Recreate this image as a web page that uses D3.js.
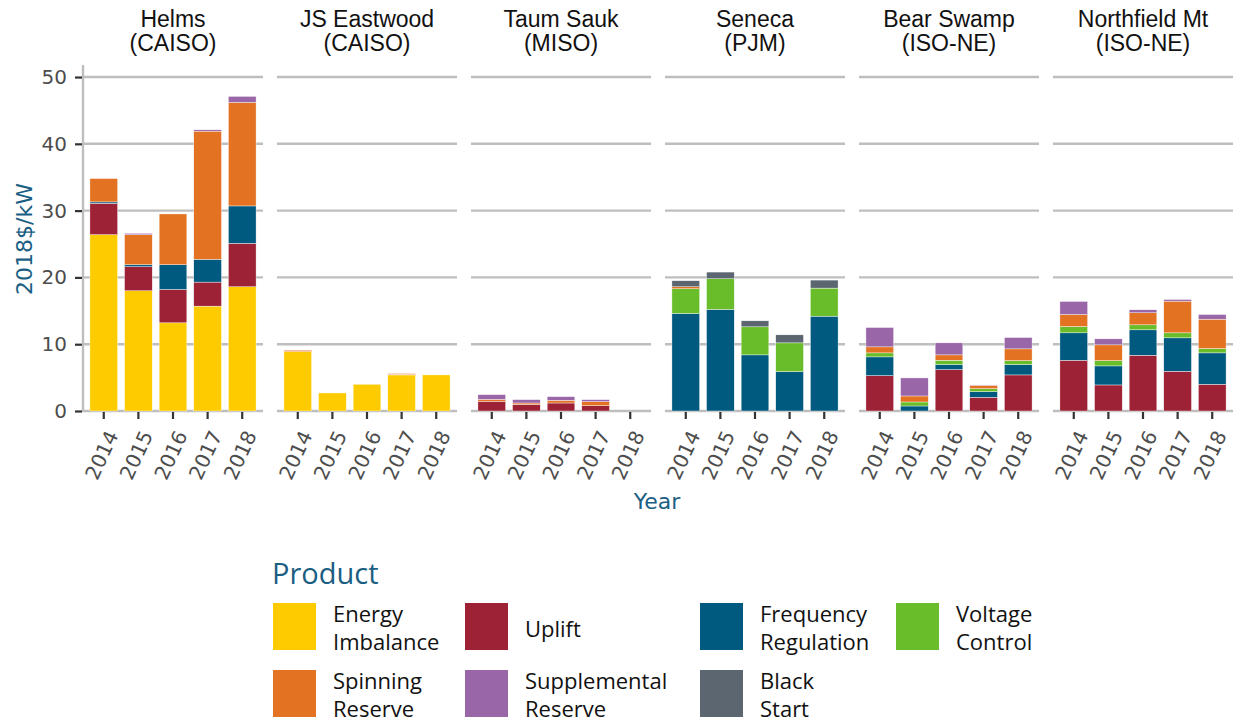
<!DOCTYPE html>
<html>
<head>
<meta charset="utf-8">
<script src="https://cdn.jsdelivr.net/npm/d3@7"></script>
<style>
  body { margin: 0; background: #fff; }
  svg { display: block; }
</style>
</head>
<body>
<div id="chart"></div>
<script>
// facets (plant / market)
const plants = ["Helms", "JS Eastwood", "Taum Sauk", "Seneca", "Bear Swamp", "Northfield Mt"];
const markets = ["CAISO", "CAISO", "MISO", "PJM", "ISO-NE", "ISO-NE"];
const years = ["2014", "2015", "2016", "2017", "2018"];

// stacking order, bottom to top
const products = ["Energy Imbalance", "Uplift", "Frequency Regulation", "Voltage Control",
                  "Spinning Reserve", "Supplemental Reserve", "Black Start"];
const productColors = ["#fecb00", "#9d2235", "#005a80", "#6abd2a", "#e37222", "#9966a8", "#5c6670"];

// one row per year, columns follow `products` (2018$/kW)
const helms = [
  [26.4, 4.7, 0.2, 0, 3.5, 0, 0],
  [18.0, 3.6, 0.3, 0, 4.5, 0.2, 0],
  [13.2, 5.0, 3.7, 0, 7.6, 0, 0],
  [15.7, 3.6, 3.4, 0, 19.2, 0.2, 0],
  [18.6, 6.5, 5.6, 0, 15.5, 0.9, 0]
];
const jsEastwood = [
  [8.9, 0, 0, 0, 0.2, 0, 0],
  [2.7, 0, 0, 0, 0, 0, 0],
  [4.0, 0, 0, 0, 0, 0, 0],
  [5.4, 0.1, 0, 0, 0.1, 0, 0],
  [5.4, 0, 0, 0, 0, 0, 0]
];
const taumSauk = [
  [0, 1.45, 0, 0, 0.3, 0.7, 0],
  [0, 1.0, 0, 0, 0.2, 0.5, 0],
  [0, 1.2, 0, 0, 0.4, 0.55, 0],
  [0, 0.8, 0, 0, 0.6, 0.3, 0],
  [0, 0, 0, 0, 0, 0, 0]
];
const seneca = [
  [0, 0, 14.6, 3.7, 0.3, 0, 0.9],
  [0, 0, 15.2, 4.6, 0, 0, 1.0],
  [0, 0, 8.4, 4.2, 0, 0, 0.9],
  [0, 0, 5.9, 4.3, 0, 0, 1.2],
  [0, 0, 14.2, 4.2, 0, 0, 1.2]
];
const bearSwamp = [
  [0, 5.3, 2.8, 0.6, 0.9, 2.9, 0],
  [0, 0, 0.75, 0.6, 0.9, 2.7, 0],
  [0, 6.2, 0.75, 0.65, 0.8, 1.8, 0],
  [0, 2.05, 0.85, 0.45, 0.5, 0.05, 0],
  [0, 5.4, 1.55, 0.6, 1.75, 1.7, 0]
];
const northfield = [
  [0, 7.6, 4.1, 0.95, 1.8, 1.95, 0],
  [0, 3.9, 2.85, 0.8, 2.35, 0.9, 0],
  [0, 8.35, 3.8, 0.75, 1.8, 0.45, 0],
  [0, 5.95, 5.0, 0.75, 4.75, 0.25, 0],
  [0, 4.0, 4.7, 0.65, 4.4, 0.7, 0]
];
const yTicks = [0, 10, 20, 30, 40, 50];

const plantValues = [helms, jsEastwood, taumSauk, seneca, bearSwamp, northfield];

const width = 1236, height = 723;
const panelLeft = 83, panelWidth = 180, panelGap = 14;
const plotTop = 65, plotBottom = 411;
const accent = "#1b5e83";
const stripFont = "'Liberation Sans', Arial, sans-serif";
const legendFont = "'Open Sans', sans-serif";
const axisFont = "'DejaVu Sans', sans-serif";

const svg = d3.select("#chart").append("svg")
  .attr("width", width)
  .attr("height", height);

const y = d3.scaleLinear().domain([0, 51.8]).range([plotBottom, plotTop]);

const stack = d3.stack()
  .keys(d3.range(products.length))
  .value((row, k) => row[k]);

plants.forEach((plant, i) => {
  const x0 = panelLeft + i * (panelWidth + panelGap);
  const x = d3.scaleBand()
    .domain(years)
    .range([x0, x0 + panelWidth])
    .paddingInner(0.2)
    .paddingOuter(0.2);

  const g = svg.append("g");

  // gridlines
  g.append("g").selectAll("line")
    .data(yTicks)
    .join("line")
    .attr("x1", x0).attr("x2", x0 + panelWidth)
    .attr("y1", d => y(d)).attr("y2", d => y(d))
    .attr("stroke", "#bebebe")
    .attr("stroke-width", 2.4);

  // strip label
  const strip = g.append("text")
    .attr("text-anchor", "middle")
    .attr("font-family", stripFont)
    .attr("font-size", 23)
    .attr("fill", "#111");
  strip.append("tspan").attr("x", x0 + panelWidth / 2).attr("y", 27).text(plant);
  strip.append("tspan").attr("x", x0 + panelWidth / 2).attr("y", 51).text(`(${markets[i]})`);

  // stacked bars
  const rows = plantValues[i];
  const series = stack(rows);
  g.append("g").selectAll("g")
    .data(series)
    .join("g")
    .attr("fill", d => productColors[d.key])
    .selectAll("rect")
    .data(d => d.map((s, j) => ({ s, year: years[j] })).filter(e => e.s[1] - e.s[0] > 0))
    .join("rect")
    .attr("x", d => x(d.year))
    .attr("width", x.bandwidth())
    .attr("y", d => y(d.s[1]))
    .attr("height", d => y(d.s[0]) - y(d.s[1]))
    .attr("stroke", "#fff")
    .attr("stroke-width", 0.4);

  // x axis
  const xAxis = g.append("g")
    .attr("transform", `translate(0,${plotBottom + 1})`)
    .call(d3.axisBottom(x).tickSize(7).tickSizeOuter(0));
  xAxis.select(".domain").remove();
  xAxis.selectAll(".tick line").attr("stroke", "#333").attr("stroke-width", 2.2);
  xAxis.selectAll(".tick text")
    .attr("font-family", axisFont)
    .attr("font-size", 20)
    .attr("fill", "#4d4d4d")
    .attr("text-anchor", "end")
    .attr("x", 0)
    .attr("y", 0)
    .attr("dy", 0)
    .attr("transform", "translate(15,23) rotate(-65)");
});

// y axis on first panel
svg.append("line")
  .attr("x1", panelLeft).attr("x2", panelLeft)
  .attr("y1", plotTop).attr("y2", plotBottom + 1)
  .attr("stroke", "#bebebe")
  .attr("stroke-width", 2.4);

const yAxis = svg.append("g")
  .attr("transform", `translate(${panelLeft - 1},0)`)
  .call(d3.axisLeft(y).tickValues(yTicks).tickSize(7).tickPadding(8));
yAxis.select(".domain").remove();
yAxis.selectAll(".tick line").attr("stroke", "#333").attr("stroke-width", 2.2);
yAxis.selectAll(".tick text")
  .attr("font-family", axisFont)
  .attr("font-size", 20)
  .attr("fill", "#4d4d4d");

// axis titles
svg.append("text")
  .attr("transform", `translate(32,${(plotTop + plotBottom) / 2 + 1}) rotate(-90)`)
  .attr("text-anchor", "middle")
  .attr("font-family", axisFont)
  .attr("font-size", 22)
  .attr("fill", accent)
  .text("2018$/kW");

svg.append("text")
  .attr("x", 657)
  .attr("y", 509)
  .attr("text-anchor", "middle")
  .attr("font-family", axisFont)
  .attr("font-size", 22)
  .attr("fill", accent)
  .text("Year");

// legend
const legend = svg.append("g");
legend.append("text")
  .attr("x", 272)
  .attr("y", 584)
  .attr("font-family", legendFont)
  .attr("font-size", 29)
  .attr("fill", accent)
  .text("Product");

const legendCols = [273, 465, 700, 896];
const legendRows = [603, 670];
const legendLayout = [[0, 0], [0, 1], [0, 2], [0, 3], [1, 0], [1, 1], [1, 2]];
const legendLines = [["Energy", "Imbalance"], ["Uplift"], ["Frequency", "Regulation"], ["Voltage", "Control"],
                     ["Spinning", "Reserve"], ["Supplemental", "Reserve"], ["Black", "Start"]];

const item = legend.selectAll("g.item")
  .data(d3.range(products.length))
  .join("g")
  .attr("class", "item")
  .attr("transform", (d, i) => `translate(${legendCols[legendLayout[i][1]]},${legendRows[legendLayout[i][0]]})`);

item.append("rect")
  .attr("width", 43)
  .attr("height", 47)
  .attr("fill", d => productColors[d]);

item.append("text")
  .attr("font-family", legendFont)
  .attr("font-size", 22)
  .attr("fill", "#111")
  .each(function(d) {
    const lines = legendLines[d];
    const t = d3.select(this);
    lines.forEach((line, k) => {
      t.append("tspan")
        .attr("x", 60)
        .attr("y", lines.length === 1 ? 34 : 19 + k * 28)
        .text(line);
    });
  });
</script>
</body>
</html>
